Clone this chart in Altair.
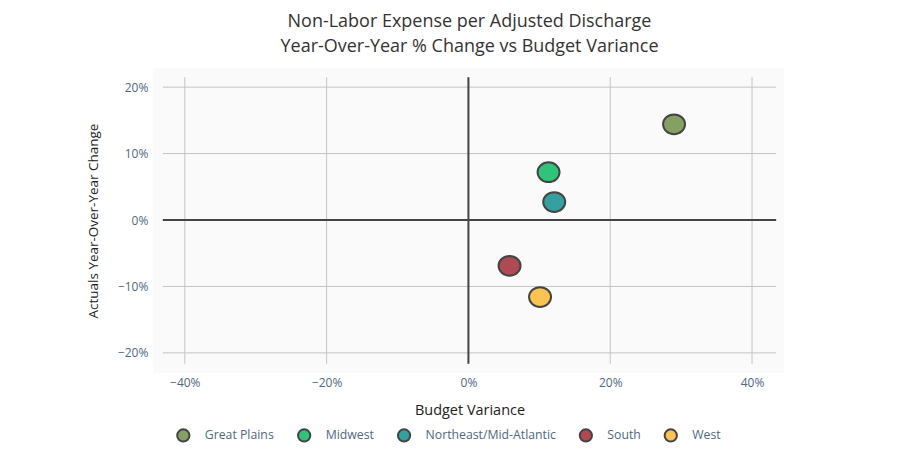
import altair as alt
import pandas as pd

regions = ["Great Plains", "Midwest", "Northeast/Mid-Atlantic", "South", "West"]
budget_variance = [0.290, 0.113, 0.121, 0.058, 0.101]
yoy_change = [0.144, 0.072, 0.027, -0.069, -0.116]
colors = ["#84a062", "#2fc47a", "#35a19f", "#b04a52", "#fbc34f"]

x_ticks = [-0.4, -0.2, 0.0, 0.2, 0.4]
y_ticks = [-0.2, -0.1, 0.0, 0.1, 0.2]

df = pd.DataFrame({"Region": regions, "Budget": budget_variance, "YoY": yoy_change})

W, H = 614, 287
x_dom = [-0.431, 0.434]
y_dom = [-0.2165, 0.215]
FONT = "Open Sans"
LABEL = "#506784"
GRID = "#c4c4c4"
ELLIPSE = "M-1,0 A1,0.9 0 1,0 1,0 A1,0.9 0 1,0 -1,0 Z"

xs = alt.Scale(domain=x_dom, nice=False, zero=False)
ys = alt.Scale(domain=y_dom, nice=False, zero=False)

bg = alt.Chart(pd.DataFrame({"a": [0]})).mark_rect(color="#fafafa", clip=False).encode(
    x=alt.value(-10), x2=alt.value(W + 8), y=alt.value(-9), y2=alt.value(H + 9)
)

xgrid = alt.Chart(pd.DataFrame({"v": x_ticks})).mark_rule(color=GRID, strokeWidth=1).encode(
    x=alt.X("v:Q", scale=xs)
)
ygrid = alt.Chart(pd.DataFrame({"v": y_ticks})).mark_rule(color=GRID, strokeWidth=1).encode(
    y=alt.Y("v:Q", scale=ys)
)

zero_x = alt.Chart(pd.DataFrame({"v": [0.0]})).mark_rule(color="#444444", strokeWidth=2).encode(
    x=alt.X("v:Q", scale=xs)
)
zero_y = alt.Chart(pd.DataFrame({"v": [0.0]})).mark_rule(color="#444444", strokeWidth=2).encode(
    y=alt.Y("v:Q", scale=ys)
)

points = alt.Chart(df).mark_point(shape=ELLIPSE, filled=True, opacity=1, stroke="#444444",
                                  strokeWidth=2, size=484).encode(
    x=alt.X("Budget:Q", scale=xs,
            axis=alt.Axis(values=x_ticks, format=".0%", title="Budget Variance",
                          grid=False, domain=False, ticks=False,
                          labelPadding=14, titlePadding=15, labelFontSize=12, labelColor=LABEL,
                          labelFont=FONT, titleFont=FONT, titleFontSize=14.5, titleFontWeight="normal",
                          titleColor="#222222")),
    y=alt.Y("YoY:Q", scale=ys,
            axis=alt.Axis(values=y_ticks, format=".0%", title="Actuals Year-Over-Year Change",
                          grid=False, domain=False, ticks=False,
                          labelPadding=15, titlePadding=17, labelFontSize=12, labelColor=LABEL,
                          labelFont=FONT, titleFont=FONT, titleFontSize=13.5, titleFontWeight="normal",
                          titleColor="#222222")),
    color=alt.Color("Region:N", scale=alt.Scale(domain=regions, range=colors),
                    legend=alt.Legend(title=None, orient="none", direction="horizontal",
                                      legendX=13, legendY=351, symbolType="circle", symbolSize=150,
                                      symbolStrokeColor="#444444", symbolStrokeWidth=2,
                                      symbolOpacity=1, labelFont=FONT, labelFontSize=12.3,
                                      labelColor=LABEL, labelOffset=14, columnPadding=19)),
)

chart = alt.layer(bg, xgrid, ygrid, zero_x, zero_y, points).properties(
    width=W, height=H,
    padding={"left": 155, "top": 69, "right": 140, "bottom": 80},
    autosize=alt.AutoSizeParams(type="none"),
    title=alt.TitleParams(
        text=["Non-Labor Expense per Adjusted Discharge", "Year-Over-Year % Change vs Budget Variance"],
        font=FONT, fontSize=18, fontWeight="normal", color="#333333", anchor="middle",
        offset=12, lineHeight=25, dx=0,
    ),
).configure_view(stroke=None).configure(background="white")

chart.save("out.html", embed_options={"renderer": "svg", "actions": False})
